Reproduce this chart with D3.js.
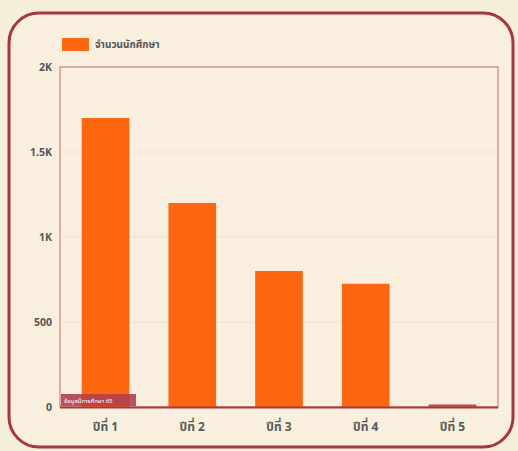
<!DOCTYPE html>
<html><head><meta charset="utf-8">
<script src="https://cdn.jsdelivr.net/npm/d3@7/dist/d3.min.js"></script>
<style>html,body{margin:0;padding:0;background:#f5eed8;}svg{display:block;}</style>
</head><body>
<svg id="c" width="518" height="451"></svg>
<script>
const categories = ["ปีที่ 1", "ปีที่ 2", "ปีที่ 3", "ปีที่ 4", "ปีที่ 5"];
const values = [1700, 1200, 800, 725, 15];
const yTicks = [0, 500, 1000, 1500, 2000];
const yTickLabels = ["0", "500", "1K", "1.5K", "2K"];
const seriesName = "จำนวนนักศึกษา";
const noteText = "ข้อมูลปีการศึกษา 65";

const svg = d3.select("#c");
const font = "'Noto Sans', 'Noto Sans Thai', 'DejaVu Sans', sans-serif";

// outer card
svg.append("rect").attr("x", 9).attr("y", 13).attr("width", 504).attr("height", 434)
  .attr("rx", 30).attr("fill", "#f9efdf").attr("stroke", "#a8363d").attr("stroke-width", 3);

const m = {l: 60, r: 498, t: 67, b: 407};
const x = d3.scaleBand().domain(categories).range([m.l, m.r]).paddingInner(0.45).paddingOuter(0.25);
const y = d3.scaleLinear().domain([0, 2000]).range([m.b, m.t]);

// grid
svg.append("g").selectAll("line").data(yTicks.slice(1)).join("line")
  .attr("x1", m.l).attr("x2", m.r).attr("y1", d => y(d)).attr("y2", d => y(d))
  .attr("stroke", "#efe4d2").attr("stroke-width", 1);

// plot border
svg.append("rect").attr("x", m.l).attr("y", m.t).attr("width", m.r - m.l).attr("height", m.b - m.t)
  .attr("fill", "none").attr("stroke", "#c86a6a").attr("stroke-width", 1);

// bars
svg.append("g").selectAll("rect").data(values).join("rect")
  .attr("x", (d, i) => x(categories[i]))
  .attr("width", x.bandwidth())
  .attr("y", d => y(d))
  .attr("height", d => y(0) - y(d))
  .attr("fill", (d, i) => i === 4 ? "#c8504a" : "#ff6612");

// baseline
svg.append("line").attr("x1", m.l).attr("x2", m.r).attr("y1", m.b + 0.5).attr("y2", m.b + 0.5)
  .attr("stroke", "#a8363d").attr("stroke-width", 2);

// y axis
const yAxis = d3.axisLeft(y).tickValues(yTicks).tickFormat((d, i) => yTickLabels[i]).tickSize(0).tickPadding(8);
const gy = svg.append("g").attr("transform", `translate(${m.l},0)`).call(yAxis);
gy.select(".domain").remove();
gy.selectAll("text").attr("fill", "#555").attr("font-size", 10.5).attr("font-weight", "bold").attr("font-family", font);

// x axis
const xAxis = d3.axisBottom(x).tickSize(0).tickPadding(15);
const gx = svg.append("g").attr("transform", `translate(0,${m.b})`).call(xAxis);
gx.select(".domain").remove();
gx.selectAll("text").attr("fill", "#5a5a5a").attr("font-size", 12).attr("font-weight", "bold").attr("font-family", font);

// legend
svg.append("rect").attr("x", 62).attr("y", 38).attr("width", 27).attr("height", 13).attr("fill", "#ff6612");
svg.append("text").attr("x", 95).attr("y", 48).text(seriesName)
  .attr("font-size", 10).attr("font-weight", "bold").attr("fill", "#555").attr("font-family", font);

// note box
svg.append("rect").attr("x", 61).attr("y", 394).attr("width", 75).attr("height", 12).attr("fill", "#b04050").attr("opacity", 0.9);
svg.append("text").attr("x", 64).attr("y", 403).text(noteText)
  .attr("font-size", 6).attr("fill", "#fff").attr("font-family", font);
</script>
</body></html>
